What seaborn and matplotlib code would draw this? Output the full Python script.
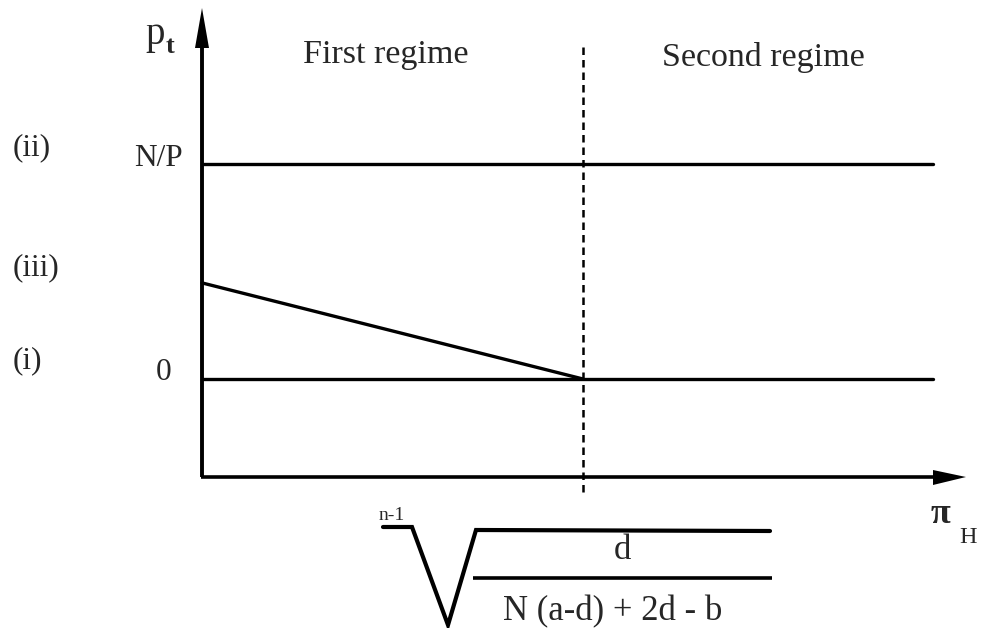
import numpy as np
import pandas as pd
import matplotlib
matplotlib.use("Agg")
import matplotlib.pyplot as plt
import seaborn as sns
from matplotlib.patches import Polygon

# ---------------- data (schematic units) ----------------
regimes = ["First regime", "Second regime"]
case_labels = ["(ii)", "(iii)", "(i)"]
level_labels = ["N/P", "0"]
level_values = [1.0, 0.0]          # N/P level and zero level
threshold = 1.0                    # pi_H where regime switches
x_end = 1.919                      # right end of level lines
iii_start = 0.447                  # intercept of case (iii)
iii_end = 0.0                      # case (iii) reaches zero at threshold
dash_top, dash_bottom = 1.553, -0.526

# ---------------- figure ----------------
sns.set_theme(style="white")
plt.rcParams["font.family"] = ["Liberation Serif", "DejaVu Serif"]
W, H = 981, 628
fig = plt.figure(figsize=(W / 100, H / 100), dpi=100)

# main data axes: mapping x_px = 202 + 381*x ; y_px = 379 - 215*y
ax = fig.add_axes([0, 0, 1, 1])
ax.set_xlim(-202 / 381, (W - 202) / 381)
ax.set_ylim((379 - H) / 215, 379 / 215)
ax.axis("off")

rows = []
rows += [dict(case="(ii)", x=0.0, y=level_values[0]), dict(case="(ii)", x=x_end, y=level_values[0])]
rows += [dict(case="(i)", x=0.0, y=level_values[1]), dict(case="(i)", x=x_end, y=level_values[1])]
rows += [dict(case="(iii)", x=0.0, y=iii_start), dict(case="(iii)", x=threshold, y=iii_end)]
df = pd.DataFrame(rows)
sns.lineplot(data=df, x="x", y="y", units="case", estimator=None, sort=False,
             color="black", lw=2.4, ax=ax, legend=False)
ax.plot([threshold, threshold], [dash_bottom, dash_top], color="black",
        lw=1.8, dashes=(3.0, 2.0), solid_capstyle="butt", dash_capstyle="butt")
ax.set_xlabel("")
ax.set_ylabel("")

# overlay axes in pixel coordinates for the axes arrows / annotations
ov = fig.add_axes([0, 0, 1, 1], facecolor="none")
ov.set_xlim(0, W)
ov.set_ylim(H, 0)
ov.axis("off")

# y axis with arrow
ov.plot([202, 202], [477, 46], color="black", lw=2.8, solid_capstyle="butt")
ov.add_patch(Polygon([[195, 48], [209, 48], [202, 8]], closed=True, color="black", lw=0))
# x axis with arrow
ov.plot([201, 935], [477, 477], color="black", lw=2.6, solid_capstyle="butt")
ov.add_patch(Polygon([[933, 470], [933, 485], [966, 477]], closed=True, color="black", lw=0))

fs = 22.5
ov.text(145, 44, "p", fontsize=28, va="baseline", ha="left")
ov.text(166, 53, "t", fontsize=19, fontweight="bold", va="baseline", ha="left")
ov.text(303, 63, regimes[0], fontsize=24.5, va="baseline", ha="left")
ov.text(662, 66, regimes[1], fontsize=24.5, va="baseline", ha="left")

ov.text(13, 155, case_labels[0], fontsize=fs, va="baseline", ha="left")
ov.text(13, 275, case_labels[1], fontsize=fs, va="baseline", ha="left")
ov.text(13, 368, case_labels[2], fontsize=fs, va="baseline", ha="left")
ov.text(183, 166, level_labels[0], fontsize=fs, va="baseline", ha="right")
ov.text(164, 380, level_labels[1], fontsize=fs, va="baseline", ha="center")

ov.text(931, 523, "π", fontsize=26, fontweight="bold", va="baseline", ha="left")
ov.text(959, 543, "H", fontsize=17.5, va="baseline", ha="left")

# radical expression under the axis
ov.plot([383, 412, 448, 476, 770], [527, 527, 625, 530, 531], color="black",
        lw=3.0, solid_joinstyle="miter", clip_on=False)
ov.plot([473, 772], [578, 578], color="black", lw=2.6, solid_capstyle="butt")
ov.text(379, 520, "n-1", fontsize=14, va="baseline", ha="left")
ov.text(622, 559, "d", fontsize=25, va="baseline", ha="center")
ov.text(613, 620, "N (a-d) + 2d - b", fontsize=25, va="baseline", ha="center")

fig.savefig("out.png", dpi=100)
